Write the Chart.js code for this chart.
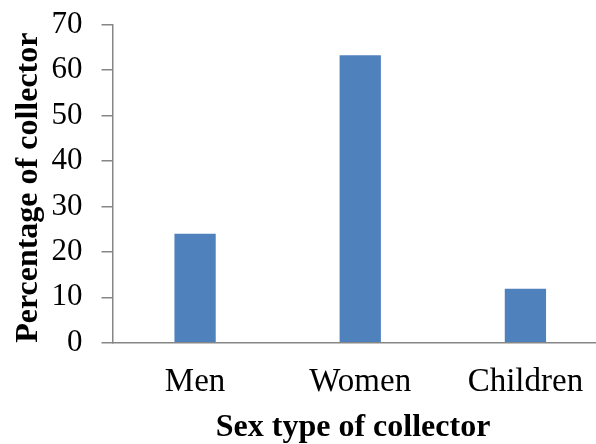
<!DOCTYPE html>
<html>
<head>
<meta charset="utf-8">
<script src="https://cdn.jsdelivr.net/npm/chart.js@4.4.1/dist/chart.umd.min.js"></script>
<style>
html,body{margin:0;padding:0;overflow:hidden;background:#fff;width:596px;height:444px;}
#wrap{width:608px;height:444px;}
</style>
</head>
<body>
<div id="wrap"><canvas id="c" width="608" height="444"></canvas></div>
<script>
const categories = ["Men", "Women", "Children"];
const percentages = [24.0, 63.3, 11.9];
const yTicks = [0, 10, 20, 30, 40, 50, 60, 70];
const xTitle = "Sex type of collector";
const yTitle = "Percentage of collector";

const serif = "'Liberation Serif', 'Times New Roman', serif";
const axisGray = "#868686";

new Chart(document.getElementById("c"), {
  type: "bar",
  data: {
    labels: categories,
    datasets: [{
      data: percentages,
      backgroundColor: "#4F81BD",
      borderWidth: 0,
      categoryPercentage: 1.0,
      barPercentage: 0.25
    }]
  },
  options: {
    responsive: false,
    animation: false,
    devicePixelRatio: 1,
    layout: { padding: { top: 24.7, left: 0, right: 0, bottom: 0 } },
    plugins: { legend: { display: false }, tooltip: { enabled: false } },
    scales: {
      x: {
        grid: { display: false, drawTicks: false },
        border: { display: true, color: axisGray, width: 1.5 },
        ticks: { color: "#000", padding: 20, font: { family: serif, size: 33 } },
        title: {
          display: true, text: xTitle + " \u2009", color: "#000",
          font: { family: serif, size: 32, weight: "bold", lineHeight: 1.0 },
          padding: { top: 0, bottom: 0 }
        },
        afterFit: s => { s.height = 101.3; }
      },
      y: {
        min: 0, max: 70,
        afterBuildTicks: s => { s.ticks = yTicks.map(v => ({ value: v })); },
        grid: { display: true, drawOnChartArea: false, drawTicks: true, tickLength: 11, color: axisGray, lineWidth: 1.5 },
        border: { display: true, color: axisGray, width: 1.5 },
        ticks: { color: "#000", padding: 19, font: { family: serif, size: 31 } },
        title: {
          display: true, text: yTitle + " ", color: "#000",
          font: { family: serif, size: 32, weight: "bold" },
          padding: { top: 10, bottom: 0 }
        },
        afterFit: s => { s.width = 112.5; s.paddingTop = 0; s.paddingBottom = 0; }
      }
    }
  }
});
</script>
</body>
</html>
